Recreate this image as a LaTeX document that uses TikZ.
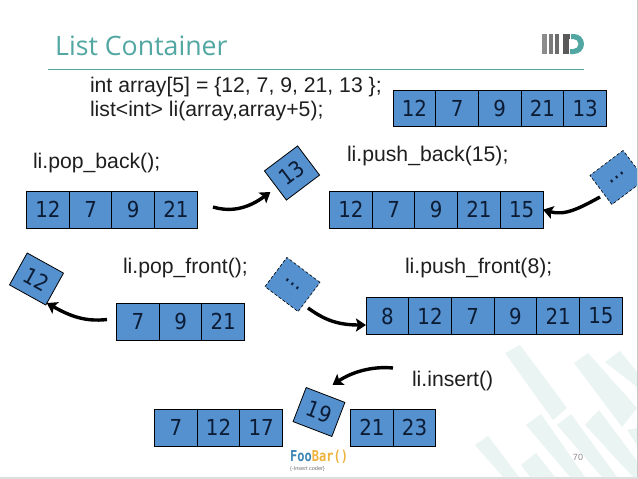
\documentclass[tikz,border=0pt]{standalone}
\usepackage{fontspec}
\usepackage{graphicx}
\setmainfont{Liberation Sans}
\newfontfamily\cellfont{DejaVu Sans Condensed}
\newfontfamily\titlefont{Open Sans}
\newfontfamily\logofont{DejaVu Sans Mono}[FontFace={b}{n}{*-Bold}]
\definecolor{cellblue}{HTML}{5590CF}
\definecolor{inktext}{HTML}{0C1C34}
\definecolor{teal1}{HTML}{52A7A3}
\definecolor{wash}{HTML}{EAF4F2}
\definecolor{edgegray}{HTML}{C8C8C8}
\usetikzlibrary{arrows.meta}
\tikzset{
  x=1pt,y=-1pt,
  cellbox/.style={draw=black,line width=0.9pt,fill=cellblue,text=inktext,font=\cellfont\fontsize{22}{22}\selectfont,
    minimum width=42.7pt,minimum height=36.8pt,inner sep=0pt,outer sep=0pt,anchor=west},
  loose/.style={draw=black,line width=0.8pt,fill=cellblue,text=inktext,font=\cellfont\fontsize{22}{22}\selectfont,
    minimum width=41.5pt,minimum height=36.5pt,inner sep=0pt,outer sep=0pt},
  dashloose/.style={loose,densely dashed,line width=0.6pt},
  code/.style={font=\fontsize{21.2}{24.4}\selectfont,text=black!88,anchor=base west,inner sep=0pt,outer sep=0pt},
  move/.style={line width=3.4pt,black,-{Stealth[length=10pt,width=13pt,inset=2pt]}},
  washbar/.style={fill=wash,draw=none},
}
\newcommand{\cellrow}[4]{%
  \foreach \v [count=\i from 0, count=\j from 1] in {#4}{
    \node[cellbox] (#1\j) at ({#2+42.7*\i},#3) {\v};
  }}
\begin{document}
\begin{tikzpicture}
\useasboundingbox (0,0) rectangle (638,479);
\fill[white] (0,0) rectangle (638,479);
% watermark
\fill[washbar] (505,353) -- (520,345) -- (567,408) -- (553,420) -- cycle;
\fill[washbar] (574,363) -- (588,353) -- (637,408) -- (622,427) -- cycle;
\fill[washbar] (605,362) -- (620,351) -- (637,372) -- (637,387) -- cycle;
\fill[washbar] (526,425) -- (541,414) -- (585,477) -- (570,477) -- cycle;
\fill[washbar] (557,425) -- (571,414) -- (617,477) -- (602,477) -- cycle;
\fill[washbar] (585,425) -- (599,410) -- (637,461) -- (637,477) -- (633,477) -- cycle;
\fill[washbar] (627,430) -- (637,428) -- (637,445) -- cycle;
\fill[washbar] (475,445) -- (488,436) -- (519,477) -- (503,477) -- cycle;
\fill[washbar] (521,465) -- (536,453) -- (555,477) -- (530,477) -- cycle;
% title
\node[font=\titlefont\fontsize{26.7}{27}\selectfont,text=teal1,anchor=base west,inner sep=0pt] (title) at (55,55) {List Container};
\coordinate (ruleL) at (48,69.5);
\coordinate (ruleR) at (583.5,69.5);
\draw[teal1,line width=0.9pt] (ruleL) -- (ruleR);
% logo
\fill[black!45] (542.3,34) rectangle (546.8,54);
\fill[black!52] (548.5,34) rectangle (553,54);
\fill[black!58] (554.5,34) rectangle (559,54);
\fill[black!65] (563,34) rectangle (569,54);
\fill[black!65] (563,34) rectangle (570,39);
\fill[teal1] (571,34) -- (574,34) arc[start angle=-90,end angle=90,radius=10] -- (570,54) -- (570,49)
  -- (573.5,49) arc[start angle=90,end angle=-90,radius=5] -- (571,39) -- cycle;
% code
\node[code] (c1) at (90,92) {int array[5] = \{12, 7, 9, 21, 13 \};};
\node[code] (c2) at (90,116) {list<int> li(array,array+5);};
\node[code] (c3) at (33,168) {li.pop\_back();};
\node[code] (c4) at (347,161) {li.push\_back(15);};
\node[code] (c5) at (123,273) {li.pop\_front();};
\node[code] (c6) at (405,273) {li.push\_front(8);};
\node[code] (c7) at (412,386) {li.insert()};
% rows
\cellrow{a}{393}{108.5}{12,7,9,21,13}
\cellrow{b}{26.5}{209.7}{12,7,9,21}
\cellrow{d}{329.5}{209.7}{12,7,9,21,15}
\cellrow{f}{116.5}{321.8}{7,9,21}
\cellrow{g}{366}{316}{8,12,7,9,21,15}
\cellrow{h}{154.5}{427.8}{7,12,17}
\cellrow{k}{350.5}{427.8}{21,23}
% loose boxes
\node[loose,rotate=37] (n13) at (292,173) {13};
\node[dashloose,rotate=37] (ndotsa) at (617.5,177.5) {...};
\node[loose,rotate=-29] (n12) at (36.5,279) {12};
\node[dashloose,rotate=-37] (ndotsb) at (292.5,284.5) {...};
\node[loose,rotate=-21] (n19) at (319,412) {19};
% arrows
\coordinate (s1) at (213,207);
\coordinate (s2) at (600,197);
\coordinate (s3) at (107,319.5);
\coordinate (s4) at (308,308);
\coordinate (s5) at (393,368);
\draw[move] (s1) .. controls (233,213) and (250,207) .. ([shift={(-5,6.5)}]n13.west);
\draw[move] (s2) .. controls (580,208) and (565,216) .. (d5.east);
\draw[move] (s3) .. controls (85,322) and (70,316) .. ([shift={(1,-2)}]n12.south east);
\draw[move] (s4) .. controls (322,318) and (335,325) .. (g1.west |- 0,325);
\draw[move] (s5) .. controls (372,366) and (352,372) .. ([shift={(7,-10)}]n19.north);
% foobar
\node[font=\logofont\bfseries\fontsize{15}{15}\selectfont,anchor=base west,inner sep=0pt] (fb) at (290,461.5) {\scalebox{0.8}[1]{\textcolor[HTML]{3D85B5}{Foo}\textcolor[HTML]{EDB33C}{Bar()}}};
\node[font=\fontsize{5.5}{5.5}\selectfont,text=black!55,anchor=base west,inner sep=0pt] (fbs) at (290,470) {\{-Insert coder\}};
\node[font=\fontsize{9}{9}\selectfont,text=black!45,anchor=base] (pg) at (578,460) {70};
% slide edge
\fill[edgegray] (636.7,0) rectangle (638,479);
\fill[edgegray!60] (0,477) rectangle (638,479);
\end{tikzpicture}
\end{document}
